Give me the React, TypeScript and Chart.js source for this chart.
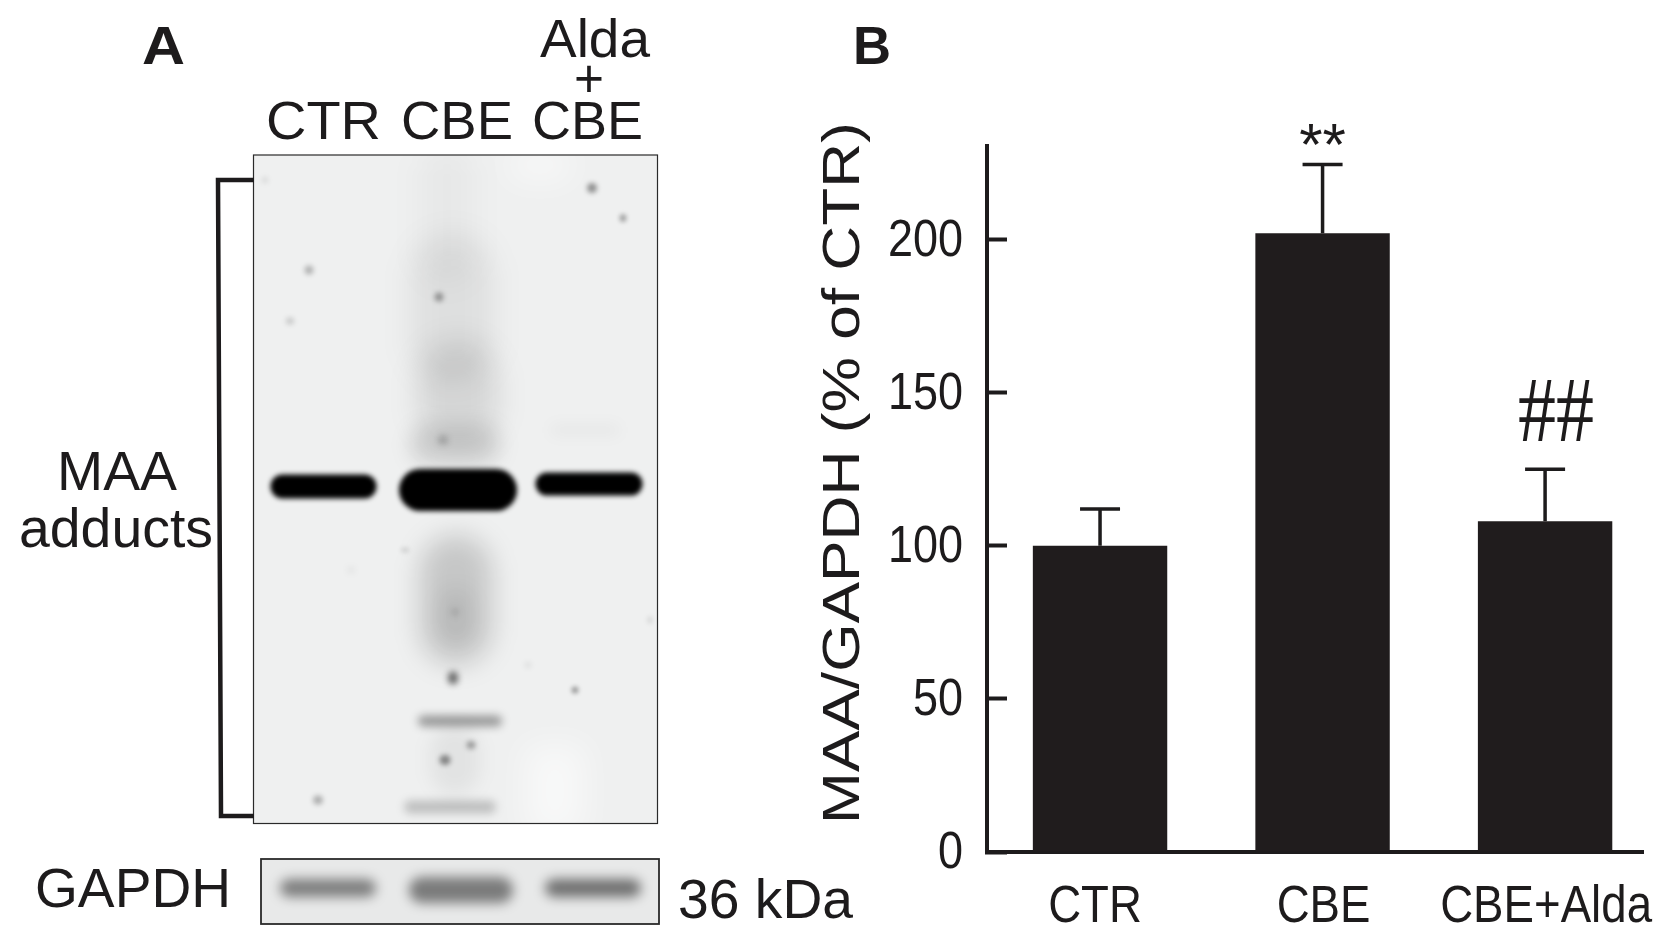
import React, { useEffect, useRef } from "react";
import { Chart, registerables } from "chart.js";

Chart.register(...registerables);

// ---- chart data (panel B) ----
const positions = [0, 1, 2];
const categories = ["CTR", "CBE", "CBE+Alda"];
const means = [100, 202, 108];
const errorTops = [112, 224.5, 125];
const significance = ["", "**", "##"];
const yAxisTitle = "MAA/GAPDH (% of CTR)";

const INK = "#1d1b1c";
const SANS = '"Liberation Sans", Arial, sans-serif';

// ---- blot appearance (panel A): x, y, w, h, darkness, blur ----
type Blob = [number, number, number, number, number, number];
const blotHaze: Blob[] = [
  [447, 215, 55, 140, 0.03, 15],
  [452, 310, 80, 150, 0.07, 15],
  [458, 395, 80, 110, 0.1, 14],
  [455, 445, 90, 40, 0.12, 10],
  [456, 600, 72, 130, 0.17, 13],
  [456, 615, 36, 55, 0.06, 9],
  [585, 430, 70, 12, 0.03, 7],
  [460, 721, 84, 11, 0.36, 4.5],
  [450, 807, 92, 13, 0.2, 4.5],
  [455, 760, 50, 70, 0.05, 9],
];
const blotSpots: Blob[] = [
  [453, 678, 10, 13, 0.55, 3],
  [471, 745, 9, 8, 0.32, 2.5],
  [445, 760, 11, 10, 0.42, 2.5],
  [439, 297, 9, 9, 0.35, 2.5],
  [309, 270, 9, 9, 0.26, 2.5],
  [290, 321, 8, 7, 0.16, 2.5],
  [592, 188, 10, 10, 0.4, 2.5],
  [623, 218, 7, 8, 0.3, 2],
  [575, 690, 7, 7, 0.35, 2],
  [318, 800, 10, 9, 0.27, 2.5],
  [443, 440, 10, 10, 0.2, 3],
  [455, 612, 8, 8, 0.12, 3],
  [405, 550, 8, 5, 0.12, 2],
  [351, 570, 7, 7, 0.06, 3],
  [528, 665, 7, 7, 0.06, 2.5],
  [265, 180, 7, 7, 0.08, 2.5],
  [650, 620, 6, 8, 0.08, 2],
];
const blotBands: Blob[] = [
  [323.5, 486.5, 106, 24, 1, 2.6],
  [458, 490, 118, 42, 1, 2.6],
  [589, 484, 107, 23, 1, 2.6],
];
const gapdhBands: Blob[] = [
  [328, 888, 96, 18, 0.46, 6],
  [461, 890, 104, 26, 0.47, 6],
  [593, 888, 96, 18, 0.52, 6],
];

// ---- page text: string, left, baseline, width, size, weight ----
type Label = [string, number, number, number, number, string?];
const pageText: Label[] = [
  ["A", 142, 64, 43, 53, "bold"],
  ["B", 853, 64, 38, 53, "bold"],
  ["Alda", 540, 57, 110, 54],
  ["+", 574, 97, 30, 54],
  ["CTR", 266, 139, 115, 54],
  ["CBE", 401, 139, 112, 54],
  ["CBE", 532, 139, 111, 54],
  ["MAA", 57, 490, 120, 55],
  ["adducts", 19, 547, 194, 55],
  ["GAPDH", 35, 907, 196, 55],
  ["36 kDa", 678, 918, 175, 55],
];

function fitText(ctx: CanvasRenderingContext2D, l: Label) {
  const [s, x, y, w, size, weight] = l;
  ctx.save();
  ctx.font = `${weight ?? "normal"} ${size}px ${SANS}`;
  ctx.fillStyle = INK;
  ctx.textAlign = "left";
  ctx.textBaseline = "alphabetic";
  const m = ctx.measureText(s).width;
  ctx.translate(x, y);
  ctx.scale(w / m, 1);
  ctx.fillText(s, 0, 0);
  ctx.restore();
}

function blobs(ctx: CanvasRenderingContext2D, list: Blob[]) {
  for (const [x, y, w, h, a, b] of list) {
    ctx.save();
    ctx.filter = `blur(${b}px)`;
    ctx.fillStyle = `rgba(0,0,0,${a})`;
    ctx.beginPath();
    ctx.roundRect(x - w / 2, y - h / 2, w, h, Math.min(w, h) / 2);
    ctx.fill();
    ctx.restore();
  }
}

function drawPanelA(ctx: CanvasRenderingContext2D) {
  // main blot
  ctx.save();
  ctx.beginPath();
  ctx.rect(254, 155, 403, 668);
  ctx.clip();
  ctx.fillStyle = "#eff0f0";
  ctx.fillRect(254, 155, 403, 668);
  ctx.save();
  ctx.filter = "blur(16px)";
  ctx.fillStyle = "rgba(255,255,255,0.55)";
  ctx.fillRect(525, 745, 60, 90);
  ctx.fillRect(510, 150, 60, 30);
  ctx.restore();
  blobs(ctx, blotHaze);
  blobs(ctx, blotSpots);
  blobs(ctx, blotBands);
  ctx.restore();
  ctx.strokeStyle = "#2a2a2a";
  ctx.lineWidth = 1.2;
  ctx.strokeRect(253.5, 155, 404, 668.5);

  // bracket
  ctx.strokeStyle = INK;
  ctx.lineWidth = 4.5;
  ctx.beginPath();
  ctx.moveTo(254, 180);
  ctx.lineTo(218, 180);
  ctx.lineTo(221, 816);
  ctx.lineTo(254, 816);
  ctx.stroke();

  // GAPDH strip
  ctx.save();
  ctx.beginPath();
  ctx.rect(261, 859, 398, 65);
  ctx.clip();
  ctx.fillStyle = "#e8e9e9";
  ctx.fillRect(261, 859, 398, 65);
  blobs(ctx, gapdhBands);
  ctx.restore();
  ctx.strokeStyle = "#2a2a2a";
  ctx.lineWidth = 1.8;
  ctx.strokeRect(261, 859, 398, 65);

  pageText.forEach((t) => fitText(ctx, t));
}

const decorations = {
  id: "decorations",
  beforeDatasetsDraw(chart: Chart) {
    drawPanelA(chart.ctx);
  },
  afterDatasetsDraw(chart: Chart) {
    const ctx = chart.ctx;
    const x = chart.scales.x;
    const y = chart.scales.y;
    ctx.save();
    // error bars
    ctx.strokeStyle = INK;
    ctx.lineWidth = 3.5;
    positions.forEach((p, i) => {
      const px = x.getPixelForValue(p);
      const top = y.getPixelForValue(errorTops[i]);
      ctx.beginPath();
      ctx.moveTo(px, y.getPixelForValue(means[i]));
      ctx.lineTo(px, top);
      ctx.moveTo(px - 20, top);
      ctx.lineTo(px + 20, top);
      ctx.stroke();
    });
    // significance marks
    ctx.fillStyle = INK;
    ctx.textAlign = "center";
    ctx.textBaseline = "alphabetic";
    positions.forEach((p, i) => {
      const s = significance[i];
      if (!s) return;
      const px = x.getPixelForValue(p);
      const top = y.getPixelForValue(errorTops[i]);
      ctx.save();
      if (s === "**") {
        ctx.font = `60px ${SANS}`;
        ctx.translate(px, top + 1);
        ctx.fillText(s, 0, 0);
      } else {
        ctx.font = `76px "Liberation Serif", serif`;
        ctx.translate(px + 11, top - 28);
        ctx.scale(1, 1.22);
        ctx.fillText(s, 0, 0);
      }
      ctx.restore();
    });
    // tick labels, condensed as in the source figure
    ctx.font = `52px ${SANS}`;
    ctx.textAlign = "right";
    ctx.textBaseline = "middle";
    y.ticks.forEach((t: any) => {
      ctx.save();
      ctx.translate(963, y.getPixelForValue(t.value) + 2);
      ctx.scale(0.865, 1);
      ctx.fillText(String(t.value), 0, 0);
      ctx.restore();
    });
    ctx.font = `51px ${SANS}`;
    ctx.textAlign = "center";
    ctx.textBaseline = "alphabetic";
    x.ticks.forEach((t: any) => {
      ctx.save();
      ctx.translate(x.getPixelForValue(t.value) + (t.value === 0 ? -5 : 1), 922);
      ctx.scale(0.895, 1);
      ctx.fillText(categories[t.value], 0, 0);
      ctx.restore();
    });
    // y axis title: stretched along its length as in the source figure
    ctx.save();
    ctx.font = `52px ${SANS}`;
    ctx.textAlign = "left";
    ctx.translate(859, 824);
    ctx.rotate(-Math.PI / 2);
    const w = ctx.measureText(yAxisTitle).width;
    ctx.scale(702 / w, 1);
    ctx.fillText(yAxisTitle, 0, 0);
    ctx.restore();
    ctx.restore();
  },
};

export default function App() {
  const ref = useRef<HTMLCanvasElement>(null);
  useEffect(() => {
    document.body.style.margin = "0";
    document.body.style.background = "#ffffff";
    const canvas = ref.current!;
    const chart = new Chart(canvas, {
      type: "bar",
      data: {
        labels: categories,
        datasets: [
          {
            data: positions.map((p, i) => ({ x: p, y: means[i] })),
            backgroundColor: "#201c1d",
            borderWidth: 0,
            barPercentage: 0.604,
            categoryPercentage: 1,
          },
        ],
      },
      options: {
        responsive: false,
        animation: false,
        devicePixelRatio: 1,
        layout: { padding: { top: 146, right: 35, left: 0, bottom: 0 } },
        plugins: { legend: { display: false }, tooltip: { enabled: false }, title: { display: false } },
        scales: {
          x: {
            type: "linear",
            offset: false,
            min: -0.508,
            max: 2.44,
            afterBuildTicks: (s: any) => {
              s.ticks = positions.map((value) => ({ value }));
            },
            afterFit: (s: any) => {
              s.height = 95;
            },
            grid: { display: false, drawTicks: false },
            border: { display: true, color: INK, width: 4 },
            ticks: { display: false },
          },
          y: {
            min: 0,
            max: 230.5,
            afterFit: (s: any) => {
              s.width = 987;
            },
            grid: { drawOnChartArea: false, drawTicks: true, tickLength: -20, tickWidth: 4, tickColor: INK },
            border: { display: true, color: INK, width: 4 },
            ticks: { display: false, stepSize: 50, includeBounds: false },
          },
        },
      },
      plugins: [decorations],
    } as any);
    return () => chart.destroy();
  }, []);
  return (
    <canvas
      ref={ref}
      width={1678}
      height={947}
      style={{ position: "absolute", left: 0, top: 0, width: 1678, height: 947 }}
    />
  );
}
